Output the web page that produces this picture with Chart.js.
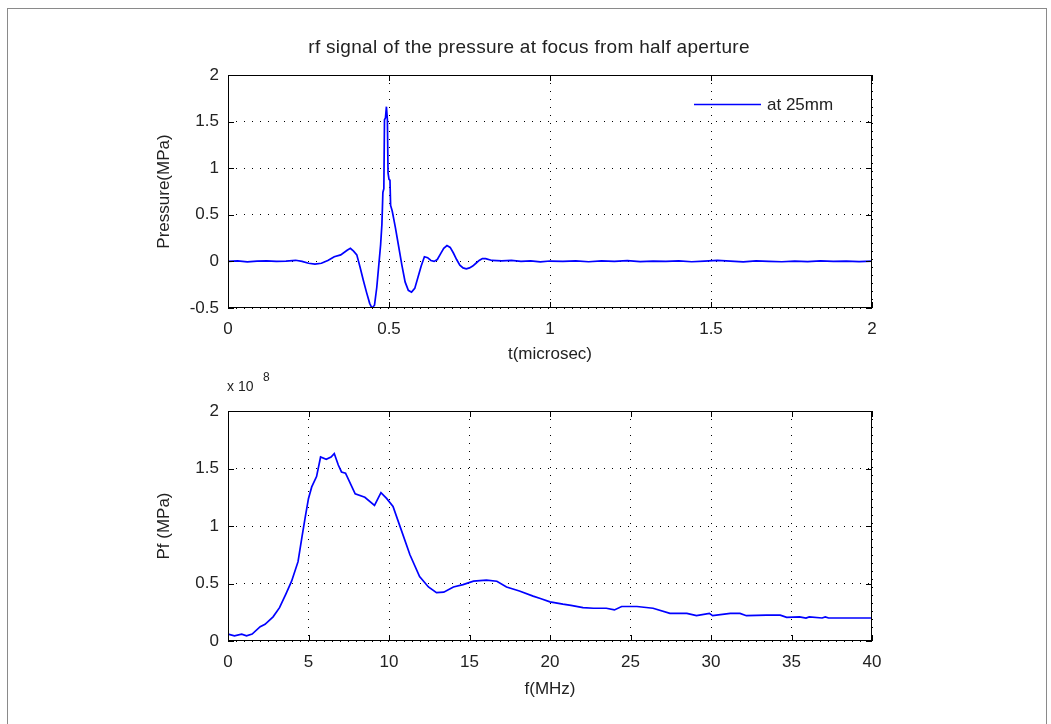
<!DOCTYPE html>
<html>
<head>
<meta charset="utf-8">
<script src="https://cdn.jsdelivr.net/npm/chart.js@4"></script>
<style>
	body { margin: 0; background: #fff; }
	#page { position: relative; width: 1051px; height: 724px; overflow: hidden; background: #fff; }
	#frame { position: absolute; left: 7px; top: 8px; width: 1038px; height: 740px; border: 1px solid #8a8a8a; }
	canvas { position: absolute; left: 0; }
	#top-chart { top: 0; }
	#bottom-chart { top: 372px; }
</style>
</head>
<body>
<div id="page">
	<div id="frame"></div>
	<canvas id="top-chart" width="1051" height="372"></canvas>
	<canvas id="bottom-chart" width="1051" height="352"></canvas>
</div>
<script>
// rf signal at focus (t in microsec, pressure in MPa)
const tSignal = [
	0, 0.03, 0.06, 0.09, 0.12, 0.15, 0.18, 0.21, 0.23, 0.25,
	0.27, 0.29, 0.31, 0.33, 0.35, 0.37, 0.38, 0.39, 0.40, 0.41,
	0.42, 0.43, 0.44, 0.447, 0.455, 0.462, 0.468, 0.474, 0.478, 0.481,
	0.484, 0.486, 0.489, 0.492, 0.495, 0.497, 0.500, 0.503, 0.505, 0.51,
	0.515, 0.52, 0.53, 0.54, 0.55, 0.56, 0.57, 0.58, 0.59, 0.60,
	0.61, 0.62, 0.63, 0.64, 0.65, 0.66, 0.67, 0.68, 0.69, 0.70,
	0.71, 0.72, 0.73, 0.74, 0.75, 0.76, 0.77, 0.78, 0.79, 0.80,
	0.82, 0.85, 0.88, 0.91, 0.94, 0.97, 1.0, 1.04, 1.08, 1.12,
	1.16, 1.2, 1.24, 1.28, 1.32, 1.36, 1.4, 1.44, 1.48, 1.52,
	1.56, 1.6, 1.64, 1.68, 1.72, 1.76, 1.8, 1.84, 1.88, 1.92,
	1.96, 2.0
];
const pSignal = [
	0.0, 0.005, -0.004, 0.003, 0.006, 0.0, 0.004, 0.012, 0.0, -0.02,
	-0.03, -0.02, 0.01, 0.05, 0.07, 0.12, 0.14, 0.11, 0.07, -0.06,
	-0.2, -0.33, -0.45, -0.5, -0.47, -0.28, -0.05, 0.18, 0.4, 0.74,
	0.78, 1.52, 1.54, 1.66, 1.52, 0.95, 0.88, 0.87, 0.6, 0.54,
	0.45, 0.36, 0.16, -0.04, -0.22, -0.31, -0.33, -0.29, -0.17, -0.05,
	0.05, 0.04, 0.01, 0.0, 0.02, 0.08, 0.14, 0.17, 0.15, 0.09,
	0.02, -0.04, -0.07, -0.08, -0.07, -0.05, -0.02, 0.01, 0.03, 0.03,
	0.01, 0.005, 0.01, 0.0, 0.006, -0.005, 0.004, 0.0, 0.006, -0.004,
	0.005, 0.0, 0.008, -0.003, 0.004, 0.0, 0.006, -0.004, 0.003, 0.01,
	0.002, -0.005, 0.006, 0.0, -0.004, 0.004, -0.003, 0.006, 0.0, 0.004,
	-0.002, 0.003
];

// spectrum (f in MHz, Pf in units of 1e8)
const fSpec = [
	0, 0.4, 0.85, 1.15, 1.5, 2.0, 2.3, 2.8, 3.2, 3.6,
	3.95, 4.35, 4.6, 4.8, 5.0, 5.2, 5.5, 5.75, 6.1, 6.4,
	6.6, 6.85, 7.05, 7.3, 7.9, 8.5, 9.1, 9.5, 9.85, 10.25,
	10.7, 11.3, 11.9, 12.45, 12.95, 13.4, 14.0, 14.6, 15.25, 16.05,
	16.7, 17.3, 18.1, 18.95, 19.4, 20.0, 20.8, 21.3, 22.05, 22.7,
	23.5, 24.0, 24.45, 25.4, 26.4, 27.45, 28.5, 29.1, 29.9, 30.1,
	31.2, 31.8, 32.2, 33.45, 34.3, 34.7, 35.5, 35.9, 36.1, 36.9,
	37.1, 37.3, 40
];
const pfE8 = [
	0.06, 0.045, 0.06, 0.045, 0.06, 0.125, 0.145, 0.21, 0.29, 0.41,
	0.52, 0.69, 0.91, 1.08, 1.24, 1.34, 1.43, 1.60, 1.58, 1.60,
	1.63, 1.53, 1.47, 1.46, 1.28, 1.25, 1.18, 1.29, 1.24, 1.17,
	0.99, 0.75, 0.56, 0.47, 0.42, 0.425, 0.47, 0.49, 0.52, 0.53,
	0.52, 0.47, 0.435, 0.39, 0.37, 0.34, 0.32, 0.31, 0.29, 0.285,
	0.285, 0.27, 0.30, 0.30, 0.285, 0.24, 0.24, 0.22, 0.24, 0.22,
	0.24, 0.24, 0.22, 0.225, 0.225, 0.205, 0.21, 0.20, 0.21, 0.20,
	0.21, 0.20, 0.20
];

const topTicksX = [0, 0.5, 1, 1.5, 2];
const topTicksY = [-0.5, 0, 0.5, 1, 1.5, 2];
const bottomTicksX = [0, 5, 10, 15, 20, 25, 30, 35, 40];
const bottomTicksY = [0, 0.5, 1, 1.5, 2];

const FONT = "'Liberation Sans', Arial, sans-serif";
const BLUE = '#0000ff';
Chart.defaults.font.family = FONT;
Chart.defaults.font.size = 17;
Chart.defaults.color = '#222';

function toPoints(xs, ys) {
	return xs.map((x, i) => ({ x: x, y: ys[i] }));
}

// matlab style box: solid frame and short ticks pointing inward on all four sides
const boxPlugin = {
	id: 'box',
	afterDraw(chart, args, opts) {
		const { ctx, chartArea: a, scales } = chart;
		ctx.save();
		ctx.strokeStyle = '#000';
		ctx.lineWidth = 1;
		ctx.setLineDash([]);
		ctx.strokeRect(a.left + 0.5, a.top + 0.5, a.right - a.left - 1, a.bottom - a.top - 1);
		ctx.beginPath();
		opts.xTicks.forEach(v => {
			const px = Math.round(scales.x.getPixelForValue(v)) + 0.5;
			ctx.moveTo(px, a.bottom); ctx.lineTo(px, a.bottom - 6);
			ctx.moveTo(px, a.top); ctx.lineTo(px, a.top + 6);
		});
		opts.yTicks.forEach(v => {
			const py = Math.round(scales.y.getPixelForValue(v)) + 0.5;
			ctx.moveTo(a.left, py); ctx.lineTo(a.left + 6, py);
			ctx.moveTo(a.right, py); ctx.lineTo(a.right - 6, py);
		});
		ctx.stroke();

		// extra texts: title, legend, exponent
		ctx.fillStyle = '#222';
		if (opts.title) {
			ctx.font = '19px ' + FONT;
			ctx.letterSpacing = '0.3px';
			ctx.textAlign = 'center';
			ctx.textBaseline = 'middle';
			ctx.fillText(opts.title, 529, 48);
			ctx.letterSpacing = '0px';
		}
		if (opts.legend) {
			ctx.strokeStyle = BLUE;
			ctx.lineWidth = 1.7;
			ctx.beginPath();
			ctx.moveTo(694, 104.5); ctx.lineTo(761, 104.5);
			ctx.stroke();
			ctx.font = '17px ' + FONT;
			ctx.textAlign = 'left';
			ctx.textBaseline = 'middle';
			ctx.fillText(opts.legend, 767, 105);
		}
		if (opts.exponent) {
			ctx.textAlign = 'left';
			ctx.textBaseline = 'alphabetic';
			ctx.font = '14px ' + FONT;
			ctx.fillText('x 10', 227, 19);
			ctx.font = '12px ' + FONT;
			ctx.fillText(opts.exponent, 263, 9);
		}
		ctx.restore();
	}
};

function makeScales(xMin, xMax, xStep, yMin, yMax, yStep, xTitle, yTitle, xTitlePad, xHeight) {
	return {
		x: {
			type: 'linear', min: xMin, max: xMax,
			ticks: { stepSize: xStep, padding: 11, maxRotation: 0, callback: v => String(v) },
			grid: { color: '#000', lineWidth: 1, drawTicks: false },
			border: { display: false, dash: [1, 7] },
			title: { display: true, text: xTitle, padding: { top: 0, bottom: xTitlePad } },
			afterFit: s => { s.height = xHeight; }
		},
		y: {
			type: 'linear', min: yMin, max: yMax,
			ticks: { stepSize: yStep, padding: 9, callback: v => String(v) },
			grid: { color: '#000', lineWidth: 1, drawTicks: false },
			border: { display: false, dash: [1, 7] },
			title: { display: true, text: yTitle, padding: { top: 154, bottom: 0 } },
			afterFit: s => { s.width = 228; }
		}
	};
}

document.addEventListener('DOMContentLoaded', () => {
	// Pressure vs time
	new Chart(document.getElementById('top-chart'), {
		type: 'line',
		data: {
			datasets: [{
				label: 'at 25mm',
				data: toPoints(tSignal, pSignal),
				borderColor: BLUE,
				borderWidth: 1.7,
				pointRadius: 0,
				tension: 0
			}]
		},
		options: {
			responsive: false,
			animation: false,
			devicePixelRatio: 1,
			layout: { padding: { left: 0, right: 179, top: 75, bottom: 0 } },
			plugins: {
				legend: { display: false },
				tooltip: { enabled: false },
				box: {
					xTicks: topTicksX, yTicks: topTicksY,
					title: 'rf signal of the pressure at focus from half aperture',
					legend: 'at 25mm'
				}
			},
			scales: makeScales(0, 2, 0.5, -0.5, 2, 0.5, 't(microsec)', 'Pressure(MPa)', 7, 64)
		},
		plugins: [boxPlugin]
	});

	// Spectrum
	new Chart(document.getElementById('bottom-chart'), {
		type: 'line',
		data: {
			datasets: [{
				label: 'Pf',
				data: toPoints(fSpec, pfE8),
				borderColor: BLUE,
				borderWidth: 1.7,
				pointRadius: 0,
				tension: 0
			}]
		},
		options: {
			responsive: false,
			animation: false,
			devicePixelRatio: 1,
			layout: { padding: { left: 0, right: 179, top: 39, bottom: 0 } },
			plugins: {
				legend: { display: false },
				tooltip: { enabled: false },
				box: { xTicks: bottomTicksX, yTicks: bottomTicksY, exponent: '8' }
			},
			scales: makeScales(0, 40, 5, 0, 2, 0.5, 'f(MHz)', 'Pf (MPa)', 24, 83)
		},
		plugins: [boxPlugin]
	});
});
</script>
</body>
</html>
